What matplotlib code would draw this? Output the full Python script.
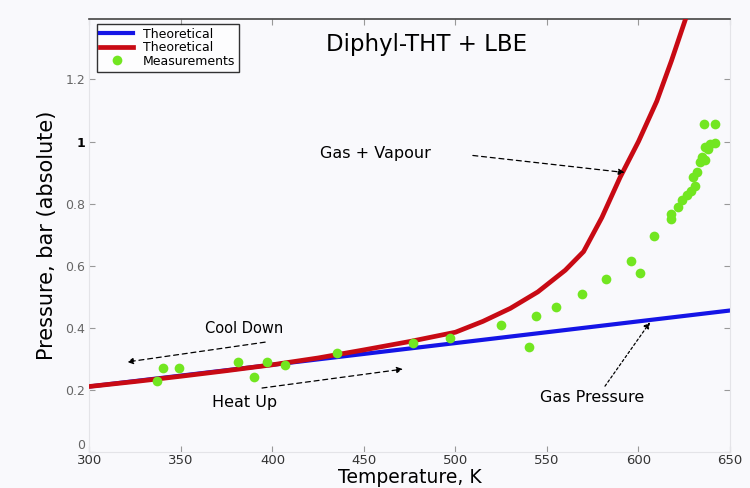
import numpy as np
import matplotlib.pyplot as plt

# theoretical gas pressure (blue) - straight line
T_gas = [300, 650]
P_gas = [0.21, 0.455]

# theoretical gas + vapour (red)
T_vap = [300, 325, 350, 375, 400, 425, 450, 475, 500, 515, 530, 545,
         560, 570, 580, 590, 600, 610, 618, 626]
P_vap = [0.21, 0.226, 0.243, 0.261, 0.28, 0.302, 0.328, 0.355, 0.385, 0.42,
         0.462, 0.515, 0.585, 0.645, 0.755, 0.885, 1.0, 1.13, 1.26, 1.40]

# measurements (green dots)
T_meas = [337, 340, 349, 381, 390, 397, 407, 435, 477, 497, 525, 540, 544,
          555, 569, 582, 596, 601, 608.5, 617.6, 618, 621.7, 623.6, 626.3,
          628.5, 630.9, 630, 632.1, 633.6, 634.5, 636.3, 636.3, 639, 641.8,
          638, 636, 642]
P_meas = [0.228, 0.271, 0.269, 0.288, 0.239, 0.288, 0.278, 0.318, 0.349,
          0.365, 0.408, 0.338, 0.438, 0.467, 0.507, 0.558, 0.616, 0.577,
          0.696, 0.749, 0.767, 0.789, 0.81, 0.826, 0.84, 0.858, 0.887, 0.901,
          0.933, 0.949, 0.939, 0.982, 0.993, 0.995, 0.976, 1.057, 1.057]

x_ticks = [300, 350, 400, 450, 500, 550, 600, 650]
y_ticks = [0, 0.2, 0.4, 0.6, 0.8, 1.0, 1.2]
y_ticklabels = ["0", "0.2", "0.4", "0.6", "0.8", "1", "1.2"]

bg = '#f9f9fc'
fig = plt.figure(figsize=(7.5, 4.88), dpi=100, facecolor=bg)
ax = fig.add_axes([0.1193, 0.0746, 0.854, 0.8864], facecolor=bg)

ax.plot(T_gas, P_gas, '-', color='#1414e6', lw=3, label='Theoretical', zorder=2)
ax.plot(T_vap, P_vap, '-', color='#c80a14', lw=3.4, label='Theoretical', zorder=3)
ax.plot(T_meas, P_meas, 'o', color='#72e620', ms=7, mec='none',
        label='Measurements', zorder=4)

ax.set_xlim(300, 650)
ax.set_ylim(0, 1.395)
ax.set_xticks(x_ticks)
ax.set_xticklabels([str(t) for t in x_ticks], fontsize=9.5, color='#333333')
ax.set_yticks(y_ticks)
ax.set_yticklabels(y_ticklabels, fontsize=9, color='#666666')
ax.tick_params(direction='in', length=4, color='#999999', top=True, right=True,
               pad=3)
ax.tick_params(axis='x', pad=2)
ylabels = ax.get_yticklabels()
# the "1" label is darker in the original
ylabels[5].set_color('black')
ylabels[5].set_fontweight('bold')
# "0" sits just above the "300" label
ylabels[0].set_va('bottom')

for side in ['left', 'right', 'bottom']:
    ax.spines[side].set_color('#e4e4e8')
ax.spines['top'].set_color('#444444')
ax.spines['top'].set_linewidth(1.2)

# x label sits right at the bottom edge, anchored by its bottom
ax.set_xlabel('Temperature, K', fontsize=13.5, va='bottom')
ax.xaxis.set_label_coords(0.5, -0.082)
ax.set_ylabel('Pressure, bar (absolute)', fontsize=15, labelpad=6)

ax.text(484, 1.312, 'Diphyl-THT + LBE', fontsize=16.5, ha='center', va='center')

arr = dict(arrowstyle='-|>', ls=(0, (4, 3)), lw=0.9, color='black',
           mutation_scale=9, shrinkA=0, shrinkB=0)
ax.annotate('', xy=(592.5, 0.9), xytext=(509.5, 0.955), arrowprops=arr)
ax.text(456, 0.96, 'Gas + Vapour', fontsize=11.5, ha='center', va='center')
ax.annotate('', xy=(320.5, 0.289), xytext=(396, 0.353), arrowprops=arr)
ax.text(384.5, 0.398, 'Cool Down', fontsize=10.5, ha='center', va='center')
ax.annotate('', xy=(471.3, 0.266), xytext=(394.3, 0.205), arrowprops=arr)
ax.text(385, 0.157, 'Heat Up', fontsize=11.5, ha='center', va='center')
ax.annotate('', xy=(606.3, 0.417), xytext=(581.7, 0.211),
            arrowprops=dict(arr, ls=(0, (2, 2))))
ax.text(574.5, 0.176, 'Gas Pressure', fontsize=11.5, ha='center', va='center')

leg = ax.legend(loc='upper left', bbox_to_anchor=(0.011, 0.989), fontsize=9,
                frameon=True, fancybox=False, borderaxespad=0,
                handlelength=2.6, borderpad=0.3, labelspacing=0.05,
                handletextpad=0.8)
leg.get_frame().set_edgecolor('black')
leg.get_frame().set_linewidth(1)
leg.get_frame().set_facecolor('white')

plt.savefig('out.png', dpi=100, facecolor=bg)
